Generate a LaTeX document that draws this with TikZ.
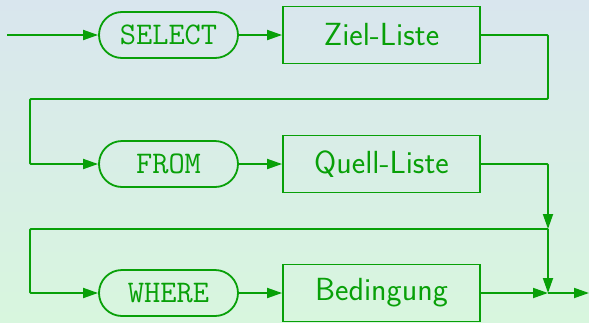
\documentclass[tikz,border=0pt]{standalone}
\usepackage{fontspec}
\usetikzlibrary{arrows.meta}
\definecolor{lg}{RGB}{8,160,8}
\definecolor{bgtop}{RGB}{217,230,238}
\definecolor{bgbot}{RGB}{216,246,222}
\tikzset{
  conn/.style={draw=lg, line width=1.8pt},
  arr/.style={conn, -{Triangle[length=15pt,width=10pt]}},
  term/.style={draw=lg, line width=1.8pt, rounded corners=23pt, minimum width=139pt, minimum height=46pt, inner sep=0pt, text=lg, font=\fontsize{31.5}{36}\ttfamily},
  nonterm/.style={draw=lg, line width=1.8pt, minimum width=197pt, minimum height=57pt, inner sep=0pt, text=lg, font=\fontsize{32}{38}\sffamily},
}
\begin{document}
\begin{tikzpicture}[x=1pt,y=-1pt]
\useasboundingbox (0,0) rectangle (589,322);
\shade[top color=bgtop, bottom color=bgbot] (0,0) rectangle (589,322);
\coordinate (start) at (7,35);
\node[term] (sel) at (168.5,35) {SELECT};
\node[nonterm] (ziel) at (381.5,35) {Ziel-Liste};
\node[term] (from) at (168.5,164) {FROM};
\node[nonterm] (quell) at (381.5,164) {Quell-Liste};
\node[term] (where) at (168.5,293) {WHERE};
\node[nonterm] (bed) at (381.5,293) {Bedingung};
\coordinate (c1) at (548,99);
\coordinate (c2) at (30,99);
\coordinate (j1) at (548,229);
\coordinate (c3) at (30,229);
\coordinate (j2) at (548,293);
\coordinate (end) at (589,293);
\draw[arr] (start) -- (sel);
\draw[arr] (sel) -- (ziel);
\draw[arr, rounded corners=1pt] (ziel.east) -| (c1) -- (c2) |- (from.west);
\draw[arr] (from) -- (quell);
\draw[arr, rounded corners=1pt] (quell.east) -| (j1);
\draw[arr, rounded corners=1pt] (j1) -- (c3) |- (where.west);
\draw[arr] (where) -- (bed);
\draw[arr] (bed.east) -- (j2);
\draw[arr] (j1) -- (j2);
\draw[arr] (j2) -- (end);
\end{tikzpicture}
\end{document}
